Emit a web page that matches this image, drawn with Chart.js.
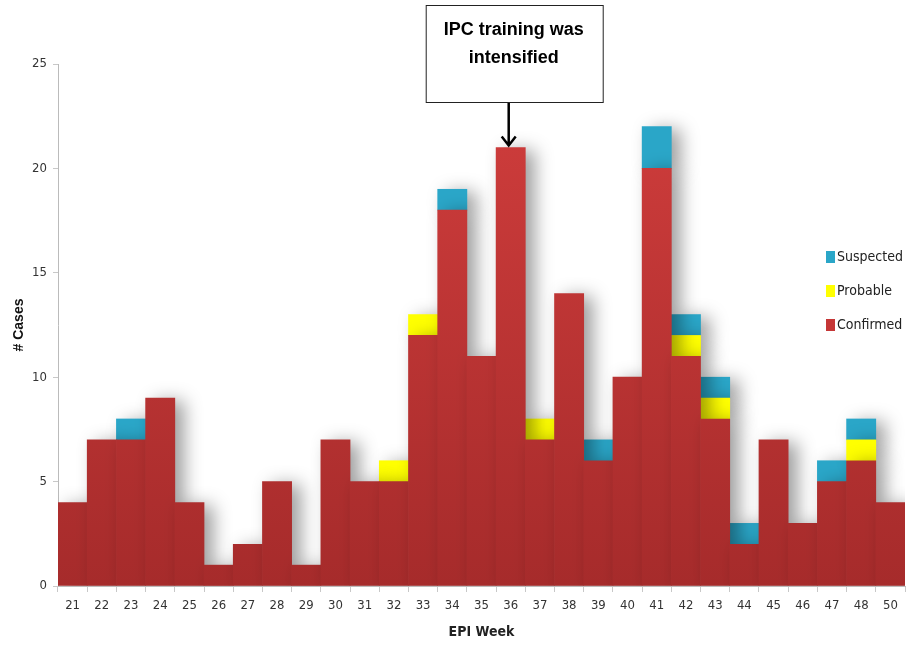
<!DOCTYPE html>
<html>
<head>
<meta charset="utf-8">
<script src="https://cdn.jsdelivr.net/npm/chart.js@4/dist/chart.umd.min.js"></script>
<style>
    html, body { margin: 0; padding: 0; background: #fff; }
    #wrap { width: 909px; height: 645px; position: relative; }
</style>
</head>
<body>
<div id="wrap"><canvas id="epiChart"></canvas></div>
<script>
// Tuần dịch tễ (EPI week)
const weeks = ["21","22","23","24","25","26","27","28","29","30","31","32","33","34","35","36","37","38","39","40","41","42","43","44","45","46","47","48","50"];
const confirmed = [4,7,7,9,4,1,2,5,1,7,5,5,12,18,11,21,7,14,6,10,20,11,8,2,7,3,5,6,4];
const probable  = [0,0,0,0,0,0,0,0,0,0,0,1,1,0,0,0,1,0,0,0,0,1,1,0,0,0,0,1,0];
const suspected = [0,0,1,0,0,0,0,0,0,0,0,0,0,1,0,0,0,0,1,0,2,1,1,1,0,0,1,1,0];
const yTicks = [0,5,10,15,20,25];

const noteLines = ["IPC training was", "intensified"];
const noteWeek = "36";

const condensed = "'DejaVu Sans Condensed', 'Liberation Sans Narrow', 'DejaVu Sans', sans-serif";

// bỏ các đoạn bằng 0 để không vẽ vạch mỏng
const nz = arr => arr.map(v => (v === 0 ? null : v));

function redFill(context) {
    const area = context.chart.chartArea;
    if (!area) return "#c53636";
    const g = context.chart.ctx.createLinearGradient(0, area.top, 0, area.bottom);
    g.addColorStop(0, "#d23e3d");
    g.addColorStop(1, "#a62b2b");
    return g;
}

// bóng đổ cho các cột
const barShadow = {
    id: "barShadow",
    beforeDatasetsDraw(chart) {
        const ctx = chart.ctx;
        ctx.save();
        ctx.shadowColor = "rgba(0,0,0,0.38)";
        ctx.shadowBlur = 18;
        ctx.shadowOffsetX = 9;
        ctx.shadowOffsetY = 3;
    },
    afterDatasetsDraw(chart) {
        chart.ctx.restore();
    }
};

// chú thích bên phải
const sideLegend = {
    id: "sideLegend",
    afterDraw(chart) {
        const ctx = chart.ctx;
        const items = [
            { text: "Suspected", color: "#2aa6c8" },
            { text: "Probable", color: "#ffff00" },
            { text: "Confirmed", color: "#c53636" }
        ];
        ctx.save();
        ctx.font = "14px " + condensed;
        ctx.textBaseline = "middle";
        items.forEach((it, i) => {
            const y = 257 + i * 34;
            ctx.fillStyle = it.color;
            ctx.fillRect(826, y - 6, 9, 12);
            ctx.fillStyle = "#222";
            ctx.fillText(it.text, 837, y);
        });
        ctx.restore();
    }
};

// hộp ghi chú + mũi tên
const noteBox = {
    id: "noteBox",
    afterDraw(chart) {
        const ctx = chart.ctx;
        const xs = chart.scales.x;
        const ys = chart.scales.y;
        const idx = weeks.indexOf(noteWeek);
        const cx = xs.getPixelForValue(idx);
        const top = confirmed[idx] + probable[idx] + suspected[idx];
        const yBar = ys.getPixelForValue(top);
        ctx.save();
        ctx.fillStyle = "#fff";
        ctx.strokeStyle = "#222";
        ctx.lineWidth = 1;
        ctx.fillRect(cx - 84.5, 5.5, 177, 97);
        ctx.strokeRect(cx - 84.5, 5.5, 177, 97);
        ctx.fillStyle = "#000";
        ctx.font = "bold 18px 'Liberation Sans', Arial, sans-serif";
        ctx.textAlign = "center";
        ctx.textBaseline = "middle";
        ctx.fillText(noteLines[0], cx + 3, 30);
        ctx.fillText(noteLines[1], cx + 3, 58);
        // mũi tên
        ctx.strokeStyle = "#000";
        ctx.lineWidth = 2.5;
        ctx.beginPath();
        ctx.moveTo(cx - 2, 103);
        ctx.lineTo(cx - 2, yBar - 2);
        ctx.moveTo(cx - 9, yBar - 11);
        ctx.lineTo(cx - 2, yBar - 2);
        ctx.lineTo(cx + 5, yBar - 11);
        ctx.stroke();
        ctx.restore();
    }
};

new Chart(document.getElementById("epiChart"), {
    type: "bar",
    data: {
        labels: weeks,
        datasets: [
            { label: "Confirmed", data: confirmed, backgroundColor: redFill },
            { label: "Probable", data: nz(probable), backgroundColor: "#ffff00" },
            { label: "Suspected", data: nz(suspected), backgroundColor: "#2aa6c8" }
        ]
    },
    plugins: [barShadow, sideLegend, noteBox],
    options: {
        responsive: true,
        maintainAspectRatio: false,
        animation: false,
        datasets: {
            bar: { barPercentage: 1, categoryPercentage: 1, borderWidth: 0, borderSkipped: false }
        },
        layout: { padding: { top: 64, right: 4, bottom: 0, left: 11 } },
        plugins: {
            legend: { display: false },
            tooltip: { enabled: false }
        },
        scales: {
            x: {
                stacked: true,
                grid: { display: true, drawOnChartArea: false, offset: true, color: "#c8c8c8", tickLength: 6 },
                border: { color: "#bbbbbb" },
                ticks: { color: "#333", font: { family: condensed, size: 13 }, padding: 6, maxRotation: 0, autoSkip: false },
                title: { display: true, text: "EPI Week", color: "#222", font: { family: condensed, size: 14, weight: "bold" }, padding: { top: 4 } },
                afterFit(scale) { scale.height = 59; }
            },
            y: {
                stacked: true,
                min: 0,
                max: 25,
                afterBuildTicks(scale) { scale.ticks = yTicks.map(v => ({ value: v })); },
                grid: { display: true, drawOnChartArea: false, color: "#c8c8c8", tickLength: 5 },
                border: { color: "#bbbbbb" },
                ticks: { color: "#333", font: { family: condensed, size: 13 }, padding: 6 },
                title: { display: true, text: "# Cases", color: "#111", font: { family: "'Liberation Sans', Arial, sans-serif", size: 14, weight: "bold" }, padding: 0 },
                afterFit(scale) { scale.width = 47; }
            }
        }
    }
});
</script>
</body>
</html>
